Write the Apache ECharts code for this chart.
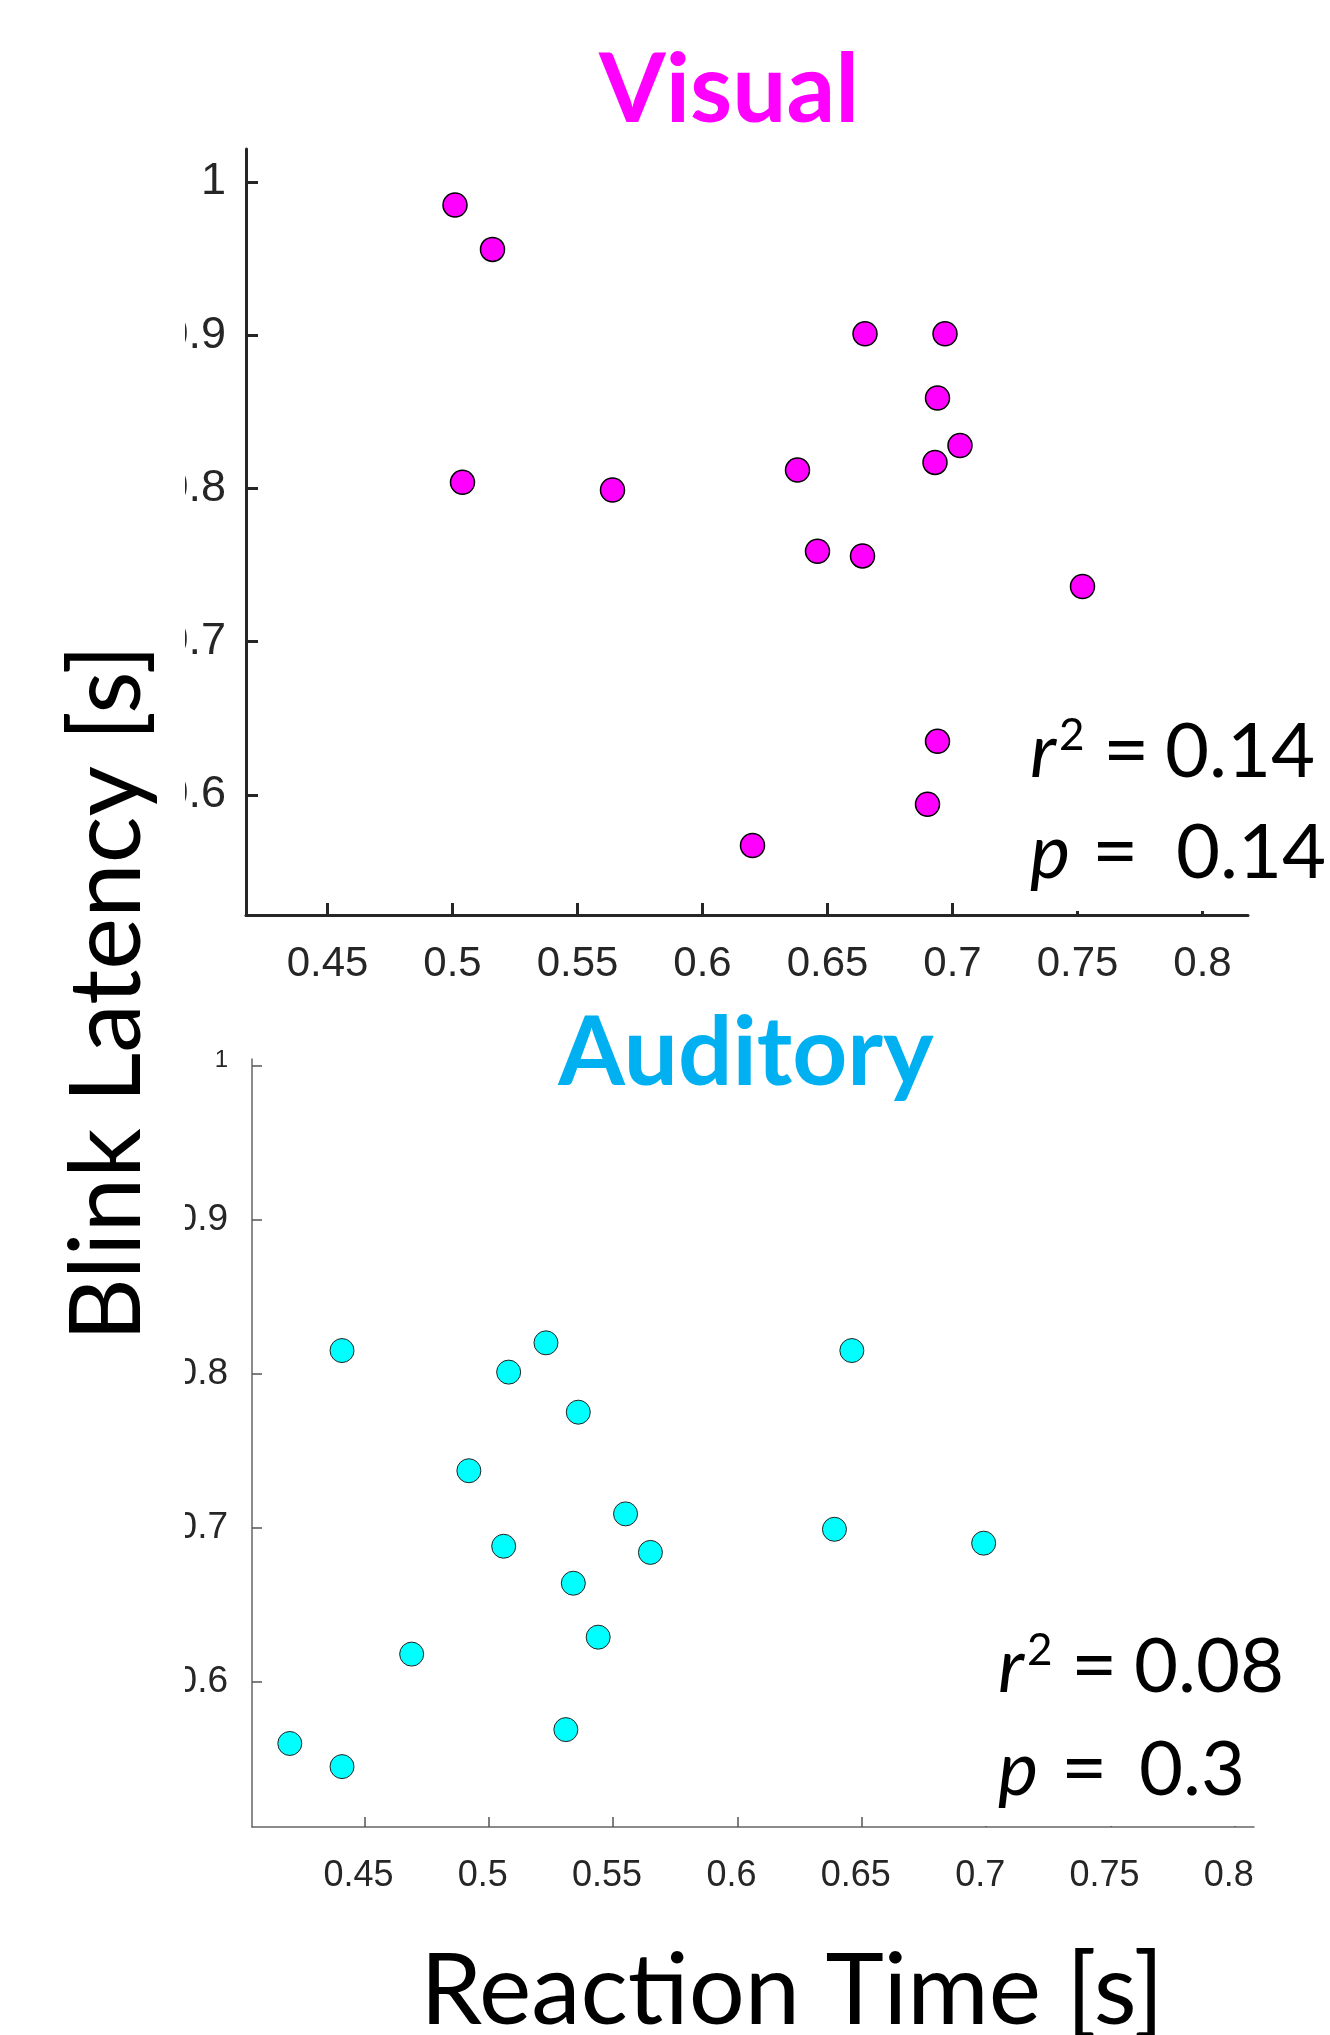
<!DOCTYPE html>
<html>
<head>
<meta charset="utf-8">
<title>Blink latency vs reaction time</title>
<script src="https://cdn.jsdelivr.net/npm/echarts@6/dist/echarts.min.js"></script>
<style>
  html, body { margin: 0; padding: 0; background: #fff; }
  #chart { width: 1330px; height: 2035px; }
</style>
</head>
<body>
<div id="chart"></div>
<script>
// Visual: reaction time [s] / blink latency [s]
const visualRT = [0.501, 0.516, 0.504, 0.564, 0.638, 0.646, 0.664, 0.665, 0.697, 0.694, 0.693, 0.703, 0.752, 0.694, 0.690, 0.620]
const visualBL = [0.985, 0.956, 0.804, 0.799, 0.812, 0.759, 0.756, 0.901, 0.901, 0.859, 0.817, 0.828, 0.736, 0.635, 0.594, 0.567]

// Auditory
const auditoryRT = [0.441, 0.420, 0.441, 0.469, 0.492, 0.506, 0.508, 0.523, 0.536, 0.534, 0.544, 0.531, 0.555, 0.565, 0.639, 0.646, 0.699]
const auditoryBL = [0.815, 0.560, 0.545, 0.618, 0.737, 0.688, 0.801, 0.820, 0.775, 0.664, 0.629, 0.569, 0.709, 0.684, 0.699, 0.815, 0.690]

const xTicks = [0.45, 0.5, 0.55, 0.6, 0.65, 0.7, 0.75, 0.8]
const yTicks = [0.6, 0.7, 0.8, 0.9, 1]

// r^2 and p values
const visualStats = ['0.14', '0.14']
const auditoryStats = ['0.08', '0.3']

const tickFont = '"Liberation Sans", Arial, sans-serif'
const textFont = 'Lato, "Open Sans", sans-serif'

const chart = echarts.init(document.getElementById('chart'), null, { renderer: 'canvas' })

function pairs(xs, ys) {
  return xs.map((x, i) => [x, ys[i]])
}

function txt(x, y, s, extra) {
  return {
    type: 'text', z: 45, x: x, y: y,
    style: Object.assign({ text: s, fontFamily: textFont, fontSize: 76, fill: '#000', verticalAlign: 'middle' }, extra || {})
  }
}

// white text box + "r2 = .." / "p = .." lines
function statBlock(p, stats) {
  return [
    { type: 'rect', z: 40, shape: p.box, style: { fill: '#fff' } },
    txt(p.left, p.y1, 'r', { fontStyle: 'italic' }),
    txt(p.left + 29, p.y1 - 16, '2', { fontSize: 44 }),
    txt(p.eq1, p.y1, '=', { fontSize: 80 }),
    txt(p.num1, p.y1, stats[0]),
    txt(p.left, p.y2, 'p', { fontStyle: 'italic' }),
    txt(p.eq2, p.y2, '=', { fontSize: 80 }),
    txt(p.num2, p.y2, stats[1])
  ]
}

chart.setOption({
  animation: false,
  backgroundColor: '#fff',
  grid: [
    { left: 246, top: 149, width: 1002, height: 766 },
    { left: 252, top: 1059, width: 1002, height: 768 }
  ],
  xAxis: [
    {
      gridIndex: 0, type: 'value', min: 0.4174, max: 0.8182,
      splitLine: { show: false },
      axisLine: { lineStyle: { color: '#262626', width: 3 } },
      axisTick: { inside: true, length: 12, lineStyle: { color: '#262626', width: 3 }, customValues: xTicks },
      axisLabel: { customValues: xTicks, margin: 28, fontSize: 42, color: '#262626', fontFamily: tickFont }
    },
    {
      gridIndex: 1, type: 'value', min: 0.4048, max: 0.8077,
      splitLine: { show: false },
      axisLine: { lineStyle: { color: '#666', width: 1.5 } },
      axisTick: { inside: true, length: 10, lineStyle: { color: '#555', width: 1.5 }, customValues: xTicks },
      axisLabel: { customValues: xTicks, margin: 31, fontSize: 36, color: '#262626', fontFamily: tickFont, padding: [0, 12, 0, 0] }
    }
  ],
  yAxis: [
    {
      gridIndex: 0, type: 'value', min: 0.5217, max: 1.0215,
      splitLine: { show: false },
      axisLine: { show: true, lineStyle: { color: '#262626', width: 3 } },
      axisTick: { show: true, inside: true, length: 12, lineStyle: { color: '#262626', width: 3 }, customValues: yTicks },
      axisLabel: { customValues: yTicks, margin: 20, fontSize: 45, color: '#262626', fontFamily: tickFont }
    },
    {
      gridIndex: 1, type: 'value', min: 0.5058, max: 1.0042,
      splitLine: { show: false },
      axisLine: { show: true, lineStyle: { color: '#666', width: 1.5 } },
      axisTick: { show: true, inside: true, length: 10, lineStyle: { color: '#555', width: 1.5 }, customValues: yTicks },
      axisLabel: {
        customValues: yTicks, margin: 24, fontSize: 37, color: '#262626', fontFamily: tickFont,
        formatter: v => v === 1 ? '{s|1}' : String(v),
        rich: { s: { fontSize: 24, color: '#262626', fontFamily: tickFont, padding: [0, 0, 10, 0] } }
      }
    }
  ],
  series: [
    {
      name: 'Visual', type: 'scatter', xAxisIndex: 0, yAxisIndex: 0,
      symbolSize: 24,
      itemStyle: { color: '#ff00ff', borderColor: '#000', borderWidth: 1.5, opacity: 1 },
      data: pairs(visualRT, visualBL)
    },
    {
      name: 'Auditory', type: 'scatter', xAxisIndex: 1, yAxisIndex: 1,
      symbolSize: 24,
      itemStyle: { color: '#00ffff', borderColor: '#222', borderWidth: 1, opacity: 1 },
      data: pairs(auditoryRT, auditoryBL)
    }
  ],
  graphic: [
    // left white strip clips the y tick labels like in the original
    { type: 'rect', z: 40, shape: { x: 0, y: 120, width: 185, height: 1800 }, style: { fill: '#fff' } },
    {
      type: 'text', z: 50, x: 729, y: 91,
      style: { text: 'Visual', fontFamily: textFont, fontWeight: 'bold', fontSize: 96, fill: '#ff00ff', align: 'center', verticalAlign: 'middle' }
    },
    {
      type: 'text', z: 50, x: 746, y: 1054,
      style: { text: 'Auditory', fontFamily: textFont, fontWeight: 'bold', fontSize: 96, fill: '#00b0f0', align: 'center', verticalAlign: 'middle' }
    },
    {
      type: 'text', z: 50, x: 108, y: 993, rotation: Math.PI / 2,
      style: { text: 'Blink Latency [s]', fontFamily: textFont, fontSize: 98, fill: '#000', align: 'center', verticalAlign: 'middle' }
    },
    {
      type: 'text', z: 50, x: 792, y: 1992,
      style: { text: 'Reaction Time [s]', fontFamily: textFont, fontSize: 99, fill: '#000', align: 'center', verticalAlign: 'middle' }
    },
    ...statBlock({
      box: { x: 985, y: 690, width: 345, height: 221 },
      left: 1030, y1: 752, y2: 853, eq1: 1103, num1: 1165, eq2: 1092, num2: 1176
    }, visualStats),
    ...statBlock({
      box: { x: 977, y: 1600, width: 353, height: 226 },
      left: 998, y1: 1667, y2: 1770, eq1: 1071, num1: 1134, eq2: 1061, num2: 1139
    }, auditoryStats)
  ]
})
</script>
</body>
</html>
